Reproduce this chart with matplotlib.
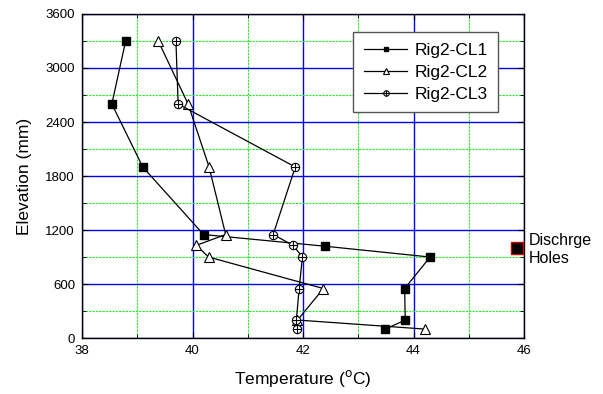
import matplotlib
matplotlib.use("Agg")
import matplotlib.pyplot as plt
from matplotlib.ticker import MultipleLocator
from matplotlib.legend_handler import HandlerTuple

plt.rcParams['font.family'] = ['Liberation Sans', 'DejaVu Sans']

elev = [3300, 2600, 1900, 1150, 1020, 900, 550, 200, 100]
cl1 = [38.79, 38.54, 39.10, 40.20, 42.40, 44.30, 43.84, 43.85, 43.49]
elev2 = [3300, 2600, 1900, 1150, 1030, 900, 550, 200, 100]
cl2 = [39.38, 39.92, 40.30, 40.60, 40.07, 40.29, 42.37, 41.90, 44.20]
elev3 = [3300, 2600, 1900, 1150, 1030, 900, 550, 200, 100]
cl3 = [39.70, 39.74, 41.86, 41.46, 41.82, 41.99, 41.93, 41.88, 41.90]
holes_T = [45.88]
holes_E = [1000]
xticks = [38, 40, 42, 44, 46]
yticks = [0, 600, 1200, 1800, 2400, 3000, 3600]

fig = plt.figure(figsize=(6.03, 3.94), dpi=100)
ax = fig.add_axes([0.136, 0.142, 0.733, 0.8225])

ax.set_xlim(38, 46)
ax.set_ylim(0, 3600)
ax.set_xticks(xticks)
ax.set_yticks(yticks)
ax.xaxis.set_minor_locator(MultipleLocator(1))
ax.yaxis.set_minor_locator(MultipleLocator(300))

ax.grid(which='major', color='#0000ff', linewidth=1.0, linestyle='-')
ax.grid(which='minor', color='#22ee22', linewidth=0.8, linestyle=(0, (2, 1)))
ax.set_axisbelow(True)

ax.tick_params(which='both', direction='in', top=True, right=True, labelsize=9.5)
ax.tick_params(which='major', length=4, pad=5)
ax.tick_params(which='minor', length=3)
for s in ax.spines.values():
    s.set_linewidth(1.0)

l1, = ax.plot(cl1, elev, color='black', lw=0.9, marker='s', ms=5.5,
              mfc='black', mec='black')
l2, = ax.plot(cl2, elev2, color='black', lw=0.9, marker='^', ms=6.5,
              mfc='white', mec='black', mew=0.8)
l3a, = ax.plot(cl3, elev3, color='black', lw=0.9, marker='o', ms=6,
               mfc='white', mec='black', mew=0.8)
l3b, = ax.plot(cl3, elev3, color='none', lw=0, marker='+', ms=6,
               mec='black', mew=0.8)

ax.plot(holes_T, holes_E, linestyle='none', marker='s', ms=8,
        mfc='black', mec='#cc0000', mew=1.0, clip_on=False, zorder=5)
ax.text(1.01, (holes_E[0] - 20) / 3600, 'Dischrge\nHoles', transform=ax.transAxes,
        ha='left', va='center', fontsize=11.5, linespacing=1.25)

leg = ax.legend([l1, l2, (l3a, l3b)], ['Rig2-CL1', 'Rig2-CL2', 'Rig2-CL3'],
                handler_map={tuple: HandlerTuple(ndivide=1)},
                loc='upper right', bbox_to_anchor=(0.941, 0.944), borderaxespad=0,
                fontsize=12.5, fancybox=False, framealpha=1, edgecolor='#555555',
                handlelength=2.5, markerscale=0.65, borderpad=0.6,
                labelspacing=0.4, handletextpad=0.4)
leg.get_frame().set_linewidth(1.0)

ax.set_xlabel('Temperature ($^{\\rm o}$C)', fontsize=12.5, labelpad=8)
ax.set_ylabel('Elevation (mm)', fontsize=12.5, labelpad=10)

fig.savefig('out.png', dpi=100)
